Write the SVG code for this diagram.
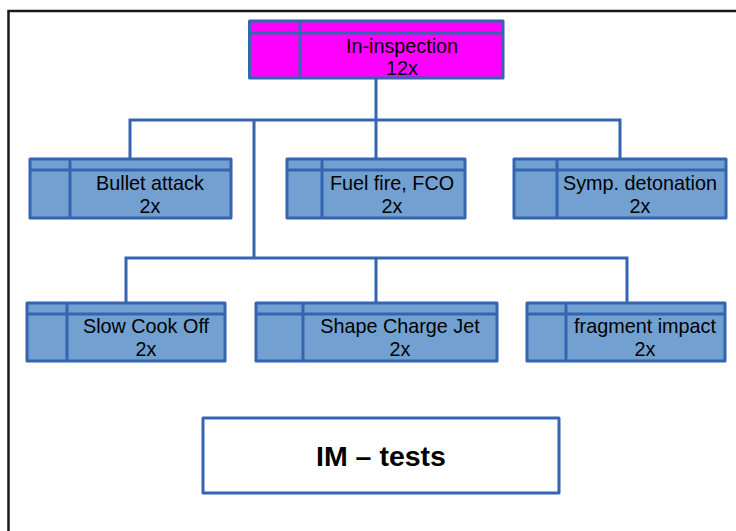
<svg xmlns="http://www.w3.org/2000/svg" width="736" height="531" viewBox="0 0 736 531">
<style>
.box{stroke:#3465b0;stroke-width:3;stroke-linejoin:round}
.blue{fill:#72a0d0}
.mag{fill:#ff00ff}
.div{stroke:#3465b0;stroke-width:3;fill:none}
.conn{stroke:#3465b0;stroke-width:3;fill:none}
.t{font-family:"Liberation Sans",Arial,sans-serif;font-size:19.8px;fill:#000;text-anchor:middle}
.big{font-family:"Liberation Sans",Arial,sans-serif;font-size:28.5px;font-weight:bold;fill:#000;text-anchor:middle}
</style>
<rect x="0" y="0" width="736" height="531" fill="#fff"/>
<path d="M8.5 531 V11 H736" stroke="#1a1a1a" stroke-width="2.5" fill="none"/>
<g id="connectors">
<path class="conn" d="M376 78 V120 M130 159 V120 H620 V159 M376 120 V159 M254 120 V258 M126 303 V258 H627 V303 M376 258 V303"/>
</g>
<g id="n-inspection">
<rect class="box mag" x="249.5" y="21" width="253.5" height="57"/>
<path class="div" d="M249.5 33 H503 M300 21 V78"/>
<text class="t" x="402" y="53">In-inspection</text>
<text class="t" x="402" y="75">12x</text>
</g>
<g id="n-bullet">
<rect class="box blue" x="30" y="159" width="201" height="59"/>
<path class="div" d="M30 170 H231 M70 159 V218"/>
<text class="t" x="150" y="190">Bullet attack</text>
<text class="t" x="150" y="213">2x</text>
</g>
<g id="n-fuel">
<rect class="box blue" x="287" y="159" width="178" height="59"/>
<path class="div" d="M287 170 H465 M322 159 V218"/>
<text class="t" x="392" y="190">Fuel fire, FCO</text>
<text class="t" x="392" y="213">2x</text>
</g>
<g id="n-symp">
<rect class="box blue" x="514" y="159" width="212" height="59"/>
<path class="div" d="M514 170 H726 M557 159 V218"/>
<text class="t" x="640" y="190">Symp. detonation</text>
<text class="t" x="640" y="213">2x</text>
</g>
<g id="n-slow">
<rect class="box blue" x="27" y="303" width="198" height="58"/>
<path class="div" d="M27 314 H225 M67 303 V361"/>
<text class="t" x="146" y="333">Slow Cook Off</text>
<text class="t" x="146" y="356">2x</text>
</g>
<g id="n-shape">
<rect class="box blue" x="256" y="303" width="241" height="58"/>
<path class="div" d="M256 314 H497 M303 303 V361"/>
<text class="t" x="400" y="333">Shape Charge Jet</text>
<text class="t" x="400" y="356">2x</text>
</g>
<g id="n-fragment">
<rect class="box blue" x="527" y="303" width="198" height="58"/>
<path class="div" d="M527 314 H725 M566 303 V361"/>
<text class="t" x="645" y="333">fragment impact</text>
<text class="t" x="645" y="356">2x</text>
</g>
<g id="n-title">
<rect class="box" fill="#fff" x="203" y="418" width="356" height="75"/>
<text class="big" x="381" y="466">IM – tests</text>
</g>
</svg>
